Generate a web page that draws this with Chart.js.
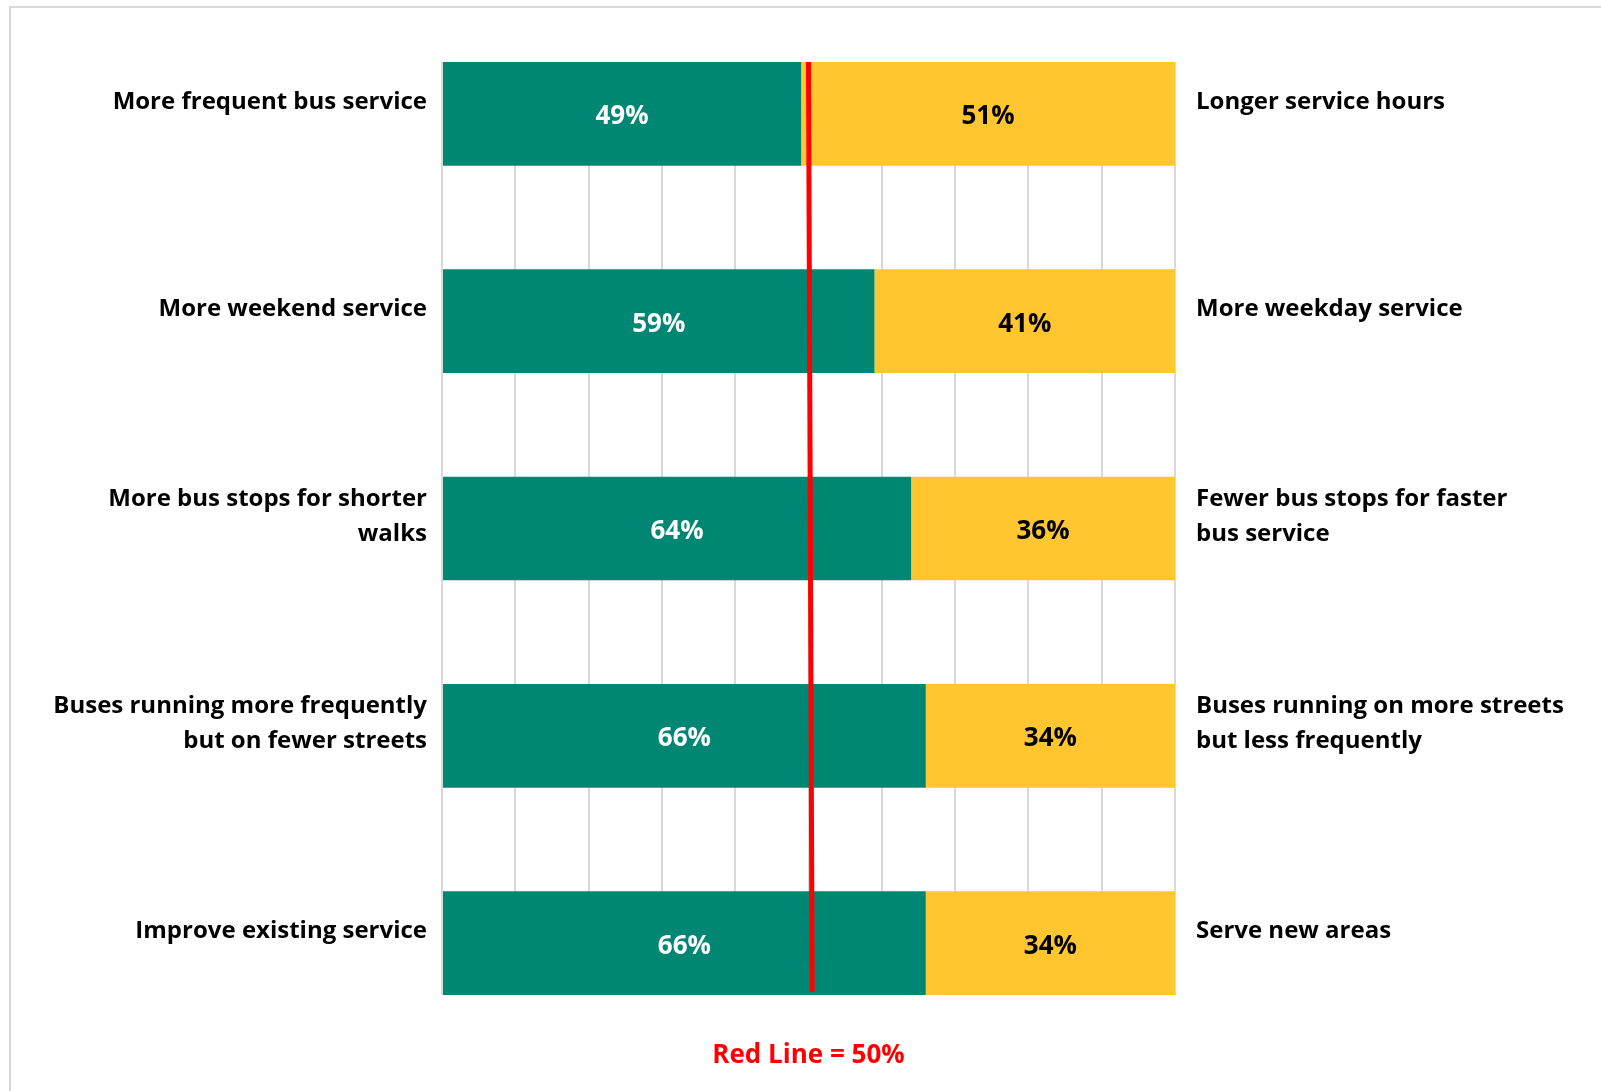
<!DOCTYPE html>
<html>
<head>
<meta charset="utf-8">
<script src="https://cdn.jsdelivr.net/npm/chart.js@4.4.1/dist/chart.umd.min.js"></script>
<style>
  html, body { margin: 0; padding: 0; background: #fff; overflow: hidden; }
  #wrap { position: relative; width: 1601px; height: 1091px; }
  #frame { position: absolute; left: 9px; top: 6px; right: -10px; bottom: -10px;
           border-top: 2px solid #d9d9d9; border-left: 2px solid #d9d9d9; }
  canvas { position: absolute; left: 0; top: 0; }
</style>
</head>
<body>
<div id="wrap">
  <div id="frame"></div>
  <canvas id="chart" width="1601" height="1091"></canvas>
</div>
<script>
// left / right choices, top to bottom
const leftLabels = [
    'More frequent bus service',
    'More weekend service',
    ['More bus stops for shorter', 'walks'],
    ['Buses running more frequently', 'but on fewer streets'],
    'Improve existing service'
];
const rightLabels = [
    'Longer service hours',
    'More weekday service',
    ['Fewer bus stops for faster', 'bus service'],
    ['Buses running on more streets', 'but less frequently'],
    'Serve new areas'
];
const leftValues = [49, 59, 64, 66, 66];
const rightValues = [51, 41, 36, 34, 34];

// the hand drawn 50% marker (slightly slanted in the original)
const redLineX = [50, 50.5];
const redLineY = [-0.25, 4.235];

const GREEN = 'rgb(0, 135, 115)';
const YELLOW = 'rgb(255, 198, 47)';
const FONT = "'Open Sans'";

Chart.defaults.font.family = FONT;

// percent labels inside the bars
const barLabels = {
    id: 'barLabels',
    afterDatasetsDraw(chart) {
        const ctx = chart.ctx;
        ctx.save();
        ctx.font = 'bold 26px ' + FONT;
        ctx.textAlign = 'center';
        ctx.textBaseline = 'middle';
        chart.data.datasets.forEach((ds, di) => {
            if (ds.type === 'line') return;
            chart.getDatasetMeta(di).data.forEach((bar, i) => {
                const p = bar.getCenterPoint();
                ctx.fillStyle = ds.labelColor;
                ctx.fillText(ds.data[i].x + '%', p.x, p.y + 3);
            });
        });
        ctx.restore();
    }
};

const yTicks = scale => { scale.ticks = leftLabels.map((l, i) => ({ value: i })); };

new Chart(document.getElementById('chart'), {
    type: 'bar',
    data: {
        datasets: [
            {
                type: 'line',
                data: redLineX.map((x, i) => ({ x: x, y: redLineY[i] })),
                borderColor: '#ff0000',
                borderWidth: 5,
                pointRadius: 0,
                stack: 'redline',
                order: 0
            },
            {
                data: leftValues.map((v, i) => ({ x: v, y: i })),
                backgroundColor: GREEN,
                labelColor: '#ffffff',
                categoryPercentage: 1,
                barPercentage: 0.5,
                order: 1
            },
            {
                data: rightValues.map((v, i) => ({ x: v, y: i })),
                backgroundColor: YELLOW,
                labelColor: '#000000',
                categoryPercentage: 1,
                barPercentage: 0.5,
                order: 1
            }
        ]
    },
    options: {
        indexAxis: 'y',
        responsive: false,
        animation: false,
        devicePixelRatio: 1,
        layout: { padding: { top: 62, left: 0, right: 0, bottom: 0 } },
        plugins: {
            legend: { display: false },
            tooltip: { enabled: false }
        },
        scales: {
            x: {
                type: 'linear',
                stacked: true,
                min: 0,
                max: 100,
                ticks: { display: false, stepSize: 10 },
                grid: { color: '#d9d9d9', lineWidth: 2, drawTicks: false },
                border: { display: false },
                title: {
                    display: true,
                    text: 'Red Line = 50%',
                    color: '#ff0000',
                    font: { size: 26, weight: 'bold' },
                    padding: { top: 0, bottom: 20 }
                },
                afterFit(scale) { scale.height = 96; }
            },
            y: {
                type: 'linear',
                position: 'left',
                stacked: true,
                reverse: true,
                offset: false,
                min: -0.25,
                max: 4.25,
                afterBuildTicks: yTicks,
                ticks: {
                    autoSkip: false,
                    padding: 15,
                    labelOffset: -12,
                    color: '#000',
                    font: { size: 24, weight: 'bold', lineHeight: 1.45 },
                    callback: v => leftLabels[v]
                },
                grid: { display: false, drawTicks: false },
                border: { display: false },
                afterFit(scale) { scale.width = 442; }
            },
            y2: {
                type: 'linear',
                position: 'right',
                reverse: true,
                offset: false,
                min: -0.25,
                max: 4.25,
                afterBuildTicks: yTicks,
                ticks: {
                    autoSkip: false,
                    padding: 21,
                    labelOffset: -12,
                    color: '#000',
                    font: { size: 24, weight: 'bold', lineHeight: 1.45 },
                    callback: v => rightLabels[v]
                },
                grid: { display: false, drawTicks: false },
                border: { display: false },
                afterFit(scale) { scale.width = 426; }
            }
        }
    },
    plugins: [barLabels]
});
</script>
</body>
</html>
